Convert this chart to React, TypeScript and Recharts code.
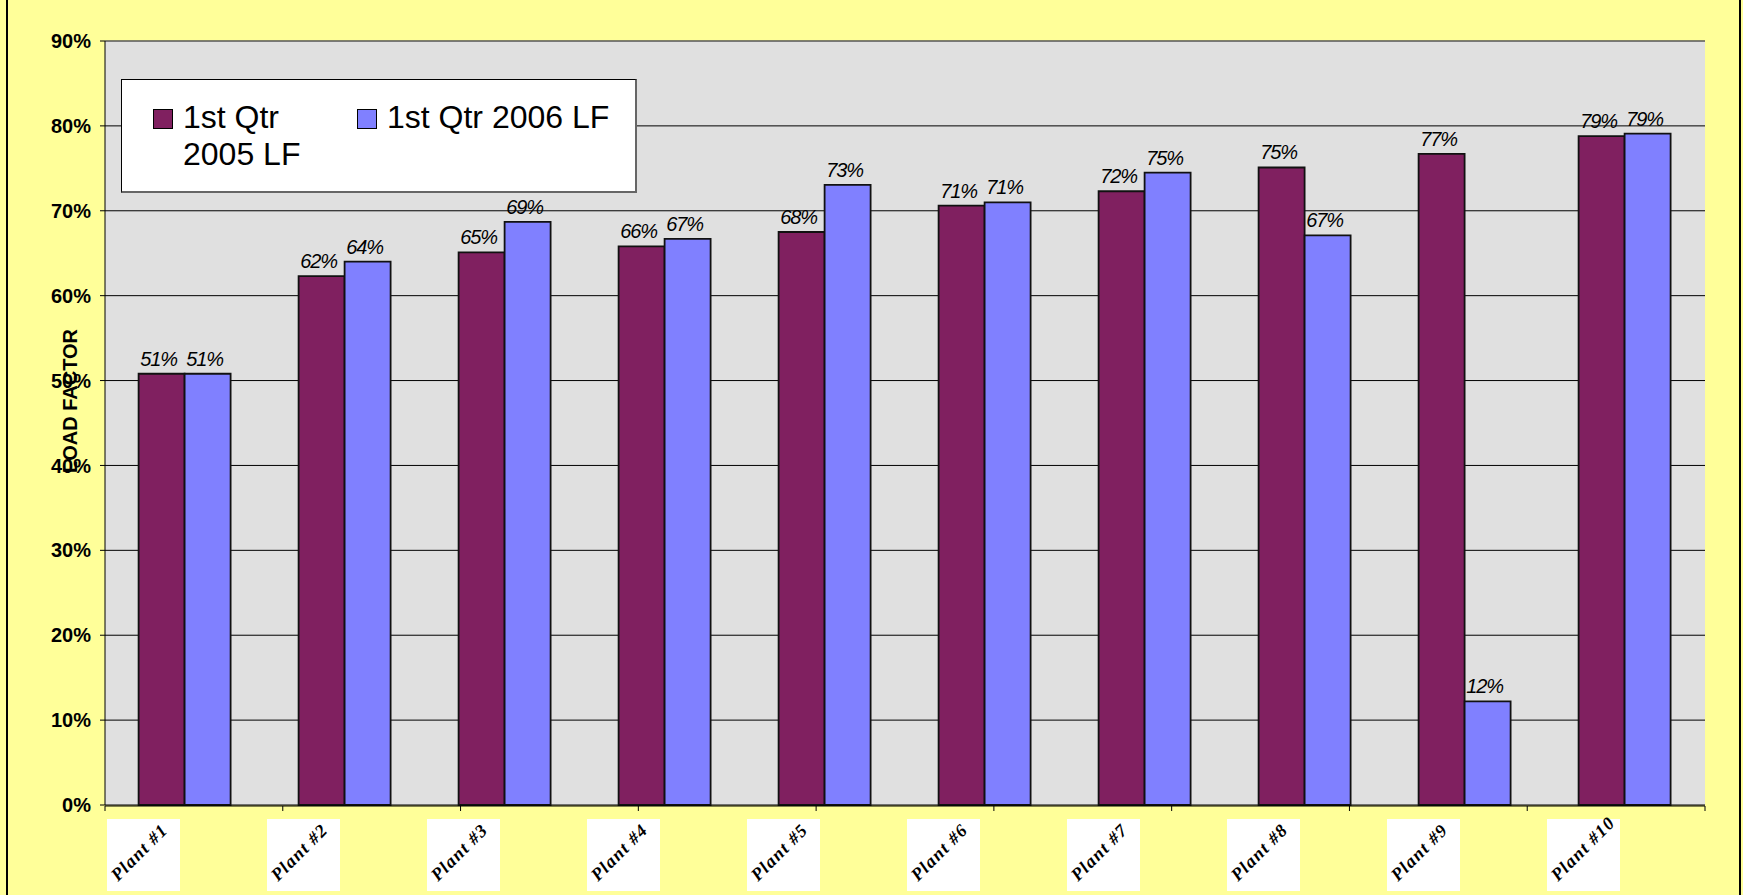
import React from 'react';
import {
  BarChart,
  Bar,
  XAxis,
  YAxis,
  CartesianGrid,
  Legend,
  LabelList,
  ReferenceLine,
} from 'recharts';

const plants = [
  'Plant #1',
  'Plant #2',
  'Plant #3',
  'Plant #4',
  'Plant #5',
  'Plant #6',
  'Plant #7',
  'Plant #8',
  'Plant #9',
  'Plant #10',
];
const lf2005 = [50.8, 62.3, 65.1, 65.8, 67.5, 70.6, 72.3, 75.1, 76.7, 78.8];
const lf2006 = [50.8, 64.0, 68.7, 66.7, 73.05, 71.0, 74.5, 67.1, 12.2, 79.1];
const yTicks = [0, 10, 20, 30, 40, 50, 60, 70, 80, 90];

const data = plants.map((p, i) => ({ plant: p, lf2005: lf2005[i], lf2006: lf2006[i] }));
const edgeTicks = plants.map((_, i) => i).concat(plants.length);

const SANS = '"Liberation Sans", Arial, sans-serif';

function BarValue(props: any) {
  const { x, y, width, value } = props;
  return (
    <text
      x={Number(x) + Number(width) / 2 - 3}
      y={Number(y) - 8}
      textAnchor="middle"
      fontFamily={SANS}
      fontStyle="italic"
      fontSize={20}
      letterSpacing={-1.2}
      fill="#000"
    >
      {Math.round(Number(value))}%
    </text>
  );
}

function PlantTick(props: any) {
  const { x, y, payload } = props;
  const left = x - 78;
  const top = y + 14;
  const tx = left + 11;
  const ty = top + 63;
  return (
    <g>
      <rect x={left} y={top} width={73} height={72} fill="#fff" />
      <text
        x={tx}
        y={ty}
        transform={`rotate(-45 ${tx} ${ty})`}
        fontFamily='"Liberation Serif", serif'
        fontWeight="bold"
        fontStyle="italic"
        fontSize={18}
        letterSpacing={1.2}
        fill="#000"
      >
        {payload.value}
      </text>
    </g>
  );
}

function LegendBox({ payload }: any) {
  return (
    <div
      style={{
        width: 516,
        height: 114,
        boxSizing: 'border-box',
        background: '#fff',
        border: '1px solid #000',
        borderRight: '2px solid #666',
        borderBottom: '2px solid #666',
        display: 'flex',
        paddingLeft: 31,
        paddingTop: 19,
        fontFamily: SANS,
        fontSize: 32,
        lineHeight: '37px',
        color: '#000',
      }}
    >
      {(payload || []).map((p: any, i: number) => (
        <div
          key={p.value}
          style={{ display: 'flex', alignItems: 'flex-start', width: i === 0 ? 204 : undefined }}
        >
          <span
            style={{
              width: 20,
              height: 20,
              background: p.color,
              border: '1px solid #000',
              boxSizing: 'border-box',
              marginTop: 10,
              marginRight: 10,
              flexShrink: 0,
            }}
          />
          <span>{p.value}</span>
        </div>
      ))}
    </div>
  );
}

export default function App() {
  return (
    <div
      style={{
        position: 'absolute',
        left: 0,
        top: 0,
        width: 1743,
        height: 895,
        background: '#FFFF99',
        overflow: 'hidden',
      }}
    >
      <BarChart
        width={1743}
        height={895}
        data={data}
        margin={{ top: 41, right: 38, left: 0, bottom: 88 }}
        barCategoryGap="21%"
        barGap={0}
      >
        <CartesianGrid vertical={false} stroke="#000" fill="#E0E0E0" />
        <XAxis
          xAxisId="edge"
          type="number"
          domain={[0, plants.length]}
          ticks={edgeTicks}
          height={1}
          tickSize={5}
          tick={() => <g />}
          axisLine={{ stroke: '#000' }}
          tickLine={{ stroke: '#000' }}
        />
        <XAxis
          dataKey="plant"
          height={1}
          interval={0}
          axisLine={false}
          tickLine={false}
          tickSize={0}
          tickMargin={0}
          tick={<PlantTick />}
        />
        <YAxis
          domain={[0, 90]}
          ticks={yTicks}
          interval={0}
          width={105}
          tickSize={5}
          tickMargin={9}
          tickFormatter={(v: number) => `${v}%`}
          tick={{ fill: '#000', fontSize: 20, fontWeight: 'bold', fontFamily: SANS }}
          axisLine={{ stroke: '#000' }}
          tickLine={{ stroke: '#000' }}
          label={{
            content: (p: any) => {
              const vb = p.viewBox || { x: 0, y: 41, width: 105, height: 764 };
              const lx = vb.x + 70;
              const ly = vb.y + vb.height / 2 - 22;
              return (
                <text
                  x={lx}
                  y={ly}
                  transform={`rotate(-90 ${lx} ${ly})`}
                  textAnchor="middle"
                  dominantBaseline="central"
                  fontFamily={SANS}
                  fontWeight="bold"
                  fontSize={20}
                  fill="#000"
                >
                  LOAD FACTOR
                </text>
              );
            },
          }}
        />
        <ReferenceLine y={90} stroke="#808080" />
        <ReferenceLine x={plants.length} xAxisId="edge" stroke="#808080" />
        <Legend
          layout="horizontal"
          verticalAlign="middle"
          align="center"
          wrapperStyle={{ left: 121, top: 79, width: 516, height: 114 }}
          content={<LegendBox />}
        />
        <Bar
          dataKey="lf2005"
          name="1st Qtr 2005 LF"
          fill="#802060"
          stroke="#111"
          strokeWidth={1.8}
          isAnimationActive={false}
        >
          <LabelList dataKey="lf2005" content={<BarValue />} />
        </Bar>
        <Bar
          dataKey="lf2006"
          name="1st Qtr 2006 LF"
          fill="#8080FF"
          stroke="#111"
          strokeWidth={1.8}
          isAnimationActive={false}
        >
          <LabelList dataKey="lf2006" content={<BarValue />} />
        </Bar>
      </BarChart>
      <div style={{ position: 'absolute', left: 6, top: 0, width: 2, height: 895, background: '#000' }} />
      <div style={{ position: 'absolute', left: 1739, top: 0, width: 2, height: 895, background: '#000' }} />
    </div>
  );
}
